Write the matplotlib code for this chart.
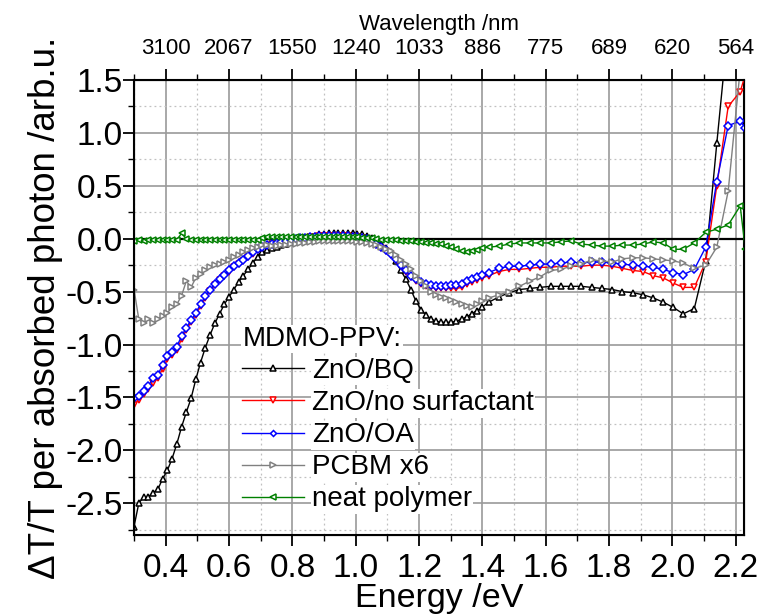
import numpy as np
import matplotlib
matplotlib.use("Agg")
import matplotlib.pyplot as plt
from matplotlib.ticker import MultipleLocator

plt.rcParams['font.family'] = ['Liberation Sans', 'DejaVu Sans']
plt.rcParams['axes.unicode_minus'] = False

# photon energy grid (eV)
energy = [0.300, 0.315, 0.330, 0.345, 0.360, 0.375, 0.390, 0.405, 0.420, 0.435,
          0.450, 0.465, 0.480, 0.495, 0.510, 0.525, 0.540, 0.555, 0.570, 0.585,
          0.600, 0.615, 0.630, 0.645, 0.660, 0.675, 0.690, 0.705, 0.720, 0.735,
          0.750, 0.765, 0.780, 0.795, 0.810, 0.825, 0.840, 0.855, 0.870, 0.885,
          0.900, 0.915, 0.930, 0.945, 0.960, 0.975, 0.990, 1.005, 1.020, 1.035,
          1.050, 1.065, 1.080, 1.095,
          1.110, 1.126, 1.142, 1.158, 1.174, 1.190, 1.206, 1.222, 1.238, 1.254,
          1.270, 1.286, 1.302, 1.318, 1.334, 1.350, 1.366, 1.382, 1.398,
          1.420, 1.452, 1.485, 1.517, 1.550, 1.582, 1.615, 1.647, 1.680, 1.712,
          1.745, 1.777, 1.810, 1.842, 1.875, 1.907, 1.940, 1.971, 2.003, 2.034,
          2.069, 2.105, 2.140, 2.176, 2.214, 2.230]

zno_bq = [-2.72, -2.50, -2.44, -2.44, -2.40, -2.37, -2.27, -2.19, -2.08, -1.94,
          -1.78, -1.64, -1.51, -1.33, -1.17, -1.03, -0.91, -0.80, -0.71, -0.62,
          -0.55, -0.48, -0.41, -0.35, -0.29, -0.23, -0.17, -0.13, -0.11, -0.09,
          -0.08, -0.06, -0.05, -0.03, -0.02, -0.01, 0.00, 0.01, 0.03, 0.04,
          0.04, 0.05, 0.05, 0.05, 0.05, 0.05, 0.05, 0.04, 0.04, 0.03,
          0.01, -0.02, -0.05, -0.09,
          -0.13, -0.21, -0.30, -0.38, -0.48, -0.59, -0.67, -0.72, -0.76, -0.78,
          -0.79, -0.79, -0.79, -0.78, -0.76, -0.74, -0.71, -0.68, -0.65,
          -0.60, -0.55, -0.51, -0.48, -0.47, -0.46, -0.45, -0.45, -0.45, -0.45,
          -0.46, -0.47, -0.48, -0.50, -0.51, -0.53, -0.56, -0.60, -0.65, -0.71,
          -0.66, -0.21, 0.90, 2.00, 2.60, 3.00]

zno_nosurf = [-1.57, -1.52, -1.47, -1.42, -1.36, -1.32, -1.23, -1.14, -1.10, -1.05,
              -0.95, -0.86, -0.79, -0.72, -0.64, -0.56, -0.49, -0.44, -0.39, -0.35,
              -0.31, -0.27, -0.24, -0.21, -0.17, -0.14, -0.11, -0.09, -0.07, -0.05,
              -0.04, -0.03, -0.02, -0.01, 0.00, 0.01, 0.01, 0.02, 0.02, 0.03,
              0.03, 0.03, 0.03, 0.03, 0.03, 0.03, 0.02, 0.02, 0.01, -0.01,
              -0.03, -0.06, -0.09, -0.12,
              -0.15, -0.20, -0.26, -0.31, -0.36, -0.40, -0.43, -0.45, -0.46, -0.47,
              -0.47, -0.47, -0.47, -0.47, -0.46, -0.43, -0.41, -0.39, -0.37,
              -0.35, -0.31, -0.29, -0.29, -0.28, -0.27, -0.27, -0.26, -0.26, -0.26,
              -0.25, -0.25, -0.26, -0.28, -0.30, -0.31, -0.35, -0.37, -0.42, -0.46,
              -0.46, -0.22, 0.50, 1.25, 1.39, 1.55]

zno_oa = [-1.51, -1.49, -1.44, -1.39, -1.32, -1.29, -1.19, -1.11, -1.07, -1.02,
          -0.92, -0.84, -0.77, -0.70, -0.62, -0.54, -0.48, -0.43, -0.38, -0.34,
          -0.30, -0.26, -0.23, -0.20, -0.16, -0.13, -0.10, -0.08, -0.06, -0.05,
          -0.04, -0.03, -0.02, -0.01, 0.00, 0.01, 0.01, 0.02, 0.02, 0.03,
          0.03, 0.03, 0.03, 0.03, 0.03, 0.03, 0.02, 0.02, 0.01, 0.00,
          -0.02, -0.05, -0.08, -0.11,
          -0.14, -0.19, -0.25, -0.30, -0.35, -0.38, -0.41, -0.43, -0.44, -0.45,
          -0.45, -0.45, -0.44, -0.44, -0.43, -0.40, -0.38, -0.36, -0.34,
          -0.32, -0.28, -0.26, -0.26, -0.25, -0.24, -0.24, -0.23, -0.22, -0.23,
          -0.22, -0.22, -0.23, -0.24, -0.25, -0.26, -0.27, -0.29, -0.32, -0.34,
          -0.29, -0.08, 0.54, 1.07, 1.11, 1.05]

pcbm_x6 = [-0.48, -0.76, -0.80, -0.76, -0.80, -0.76, -0.73, -0.70, -0.65, -0.62,
           -0.54, -0.40, -0.46, -0.37, -0.33, -0.30, -0.27, -0.25, -0.24, -0.22,
           -0.20, -0.17, -0.15, -0.13, -0.11, -0.09, -0.08, -0.06, -0.06, -0.07,
           -0.07, -0.06, -0.06, -0.05, -0.05, -0.04, -0.04, -0.03, -0.03, -0.02,
           -0.02, -0.02, -0.02, -0.02, -0.02, -0.02, -0.02, -0.03, -0.03, -0.04,
           -0.05, -0.06, -0.08, -0.10,
           -0.12, -0.15, -0.20, -0.24, -0.29, -0.35, -0.40, -0.45, -0.50, -0.53,
           -0.55, -0.56, -0.58, -0.60, -0.62, -0.64, -0.65, -0.62, -0.59,
           -0.56, -0.53, -0.50, -0.45, -0.40, -0.36, -0.30, -0.29, -0.26, -0.24,
           -0.20, -0.21, -0.22, -0.19, -0.18, -0.18, -0.19, -0.20, -0.21, -0.23,
           -0.28, -0.25, -0.08, 0.45, 1.60, 1.90]

neat_polymer = [-0.02, -0.01, -0.02, -0.01, -0.01, -0.01, -0.01, -0.01, -0.01, -0.01,
                0.05, 0.00, -0.01, -0.01, -0.01, -0.01, -0.01, -0.01, -0.01, -0.01,
                -0.01, -0.01, -0.01, -0.01, -0.01, -0.01, -0.01, 0.01, 0.02, 0.02,
                0.02, 0.02, 0.02, 0.02, 0.02, 0.02, 0.02, 0.02, 0.02, 0.02,
                0.02, 0.02, 0.02, 0.02, 0.02, 0.02, 0.02, 0.02, 0.01, 0.01,
                0.01, 0.00, -0.01, -0.01,
                -0.01, -0.01, -0.02, -0.02, -0.02, -0.03, -0.03, -0.04, -0.04, -0.05,
                -0.05, -0.07, -0.08, -0.10, -0.12, -0.13, -0.12, -0.11, -0.09,
                -0.08, -0.07, -0.05, -0.04, -0.04, -0.04, -0.04, -0.03, -0.02, -0.05,
                -0.06, -0.07, -0.07, -0.06, -0.06, -0.05, -0.03, -0.04, -0.10, -0.10,
                -0.04, 0.06, 0.09, 0.13, 0.31, -0.10]

labels = ["ZnO/BQ", "ZnO/no surfactant", "ZnO/OA", "PCBM x6", "neat polymer"]
series = [zno_bq, zno_nosurf, zno_oa, pcbm_x6, neat_polymer]
colors = ["black", "red", "blue", "grey", "green"]
markers = ["^", "v", "D", ">", "<"]
msizes = [4.8, 4.8, 3.8, 4.8, 4.8]

energy_ticks = [0.4, 0.6, 0.8, 1.0, 1.2, 1.4, 1.6, 1.8, 2.0, 2.2]
wavelength_labels = ["3100", "2067", "1550", "1240", "1033", "886", "775", "689", "620", "564"]

fig = plt.figure(figsize=(7.62, 6.14), dpi=100)
ax = fig.add_axes([0.1759, 0.1287, 0.8005, 0.741])

for y, lab, c, m, ms in zip(series, labels, colors, markers, msizes):
    ax.plot(energy, y, color=c, lw=1.0, marker=m, ms=ms, mfc="white", mec=c,
            mew=1.1, label=lab, zorder=3)

ax.axhline(0, color="black", lw=1.6, zorder=2)

ax.set_xlim(0.3, 2.226)
ax.set_ylim(-2.8, 1.5)
ax.xaxis.set_major_locator(MultipleLocator(0.2))
ax.xaxis.set_minor_locator(MultipleLocator(0.1))
ax.yaxis.set_major_locator(MultipleLocator(0.5))
ax.yaxis.set_minor_locator(MultipleLocator(0.25))
ax.xaxis.set_major_formatter(plt.FormatStrFormatter("%.1f"))
ax.yaxis.set_major_formatter(plt.FormatStrFormatter("%.1f"))
ax.set_axisbelow(True)
ax.grid(which="major", color="#9a9a9a", lw=1.2, ls="-")
ax.grid(which="minor", color="#c0c0c0", lw=0.9, ls=(0, (1.5, 2.5)))

ax.tick_params(which="major", direction="out", length=8, width=1.3, labelsize=24)
ax.tick_params(which="minor", direction="out", length=4, width=1.0)
ax.tick_params(axis="x", which="major", pad=5)
ax.tick_params(axis="y", which="major", pad=0)
ax.tick_params(axis="y", which="both", right=False)
for s in ax.spines.values():
    s.set_linewidth(1.5)

ax.set_xlabel("Energy /eV", fontsize=24.5, labelpad=-1)
ax.set_ylabel("ΔT/T per absorbed photon /arb.u.", fontsize=26.5, labelpad=2)

top = ax.twiny()
top.set_xlim(ax.get_xlim())
top.set_xticks(energy_ticks)
top.set_xticklabels(wavelength_labels)
top.xaxis.set_minor_locator(MultipleLocator(0.1))
top.tick_params(which="major", direction="out", length=8, width=1.3, labelsize=16, pad=7)
top.tick_params(which="minor", direction="out", length=4, width=1.0)
top.set_xlabel("Wavelength /nm", fontsize=16, labelpad=6)

leg = ax.legend(loc="upper left", bbox_to_anchor=(0.155, 0.49), frameon=False,
                fontsize=20, title="MDMO-PPV:", title_fontsize=20, alignment="left",
                numpoints=1, handlelength=2.2, handletextpad=0.3, labelspacing=0.22,
                borderpad=0.0, markerscale=0.8)
for t in leg.get_texts() + [leg.get_title()]:
    t.set_bbox(dict(facecolor="white", edgecolor="none", pad=1))

fig.savefig("out.png", dpi=100)
